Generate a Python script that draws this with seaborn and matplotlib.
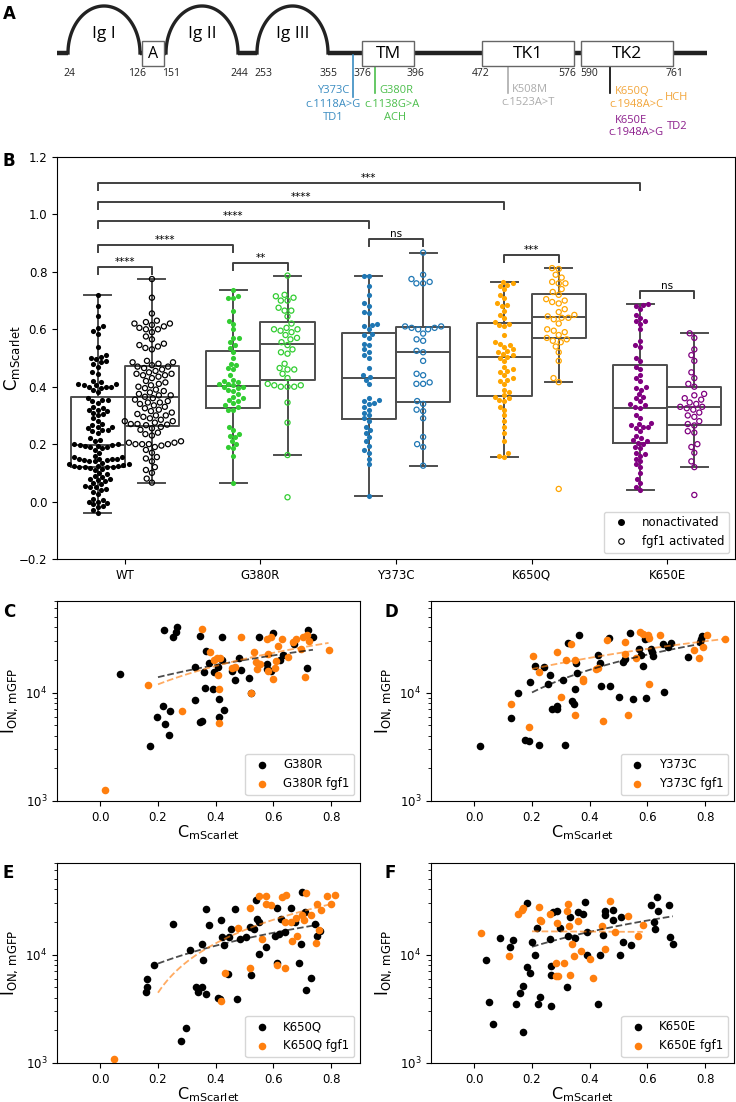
import numpy as np
import pandas as pd
import seaborn as sns
import matplotlib.pyplot as plt
from matplotlib.patches import Rectangle
from matplotlib.lines import Line2D

# ---------------- panel A: domain sketch (schematic x in px) ----------------
arc_names = ["Ig I", "Ig II", "Ig III"]
arc_start = [68, 166, 257]
arc_end = [140, 238, 328]
box_names = ["A", "TM", "TK1", "TK2"]
box_start = [142, 362, 482, 581]
box_end = [164, 414, 574, 673]
residues = ["24", "126", "151", "244", "253", "355", "376", "396", "472", "576", "590", "761"]
residue_x = [69, 137, 171, 239, 263, 329, 362, 415, 481, 567, 589, 674]

mut_names = ["Y373C", "G380R", "K508M", "K650Q", "K650E"]
mut_dna = ["c.1118A>G", "c.1138G>A", "c.1523A>T", "c.1948A>C", "c.1948A>G"]
mut_pheno = ["TD1", "ACH", "", "HCH", "TD2"]
mut_colors = ["#3a8cc1", "#4cbf4c", "#acacac", "#f2a53a", "#8c1e8c"]

# ---------------- panel B: C_mScarlet per cell ----------------
groups = ["WT", "G380R", "Y373C", "K650Q", "K650E"]
conditions = ["nonactivated", "fgf1 activated"]
group_colors = ["black", "limegreen", "#1f77b4", "orange", "purple"]

wt_non = [0.72, 0.68, 0.645, 0.61, 0.605, 0.595, 0.585, 0.54, 0.51, 0.505, 0.50, 0.495, 0.49, 0.485, 0.48,
          0.47, 0.45, 0.445, 0.42, 0.415, 0.41, 0.41, 0.405, 0.405, 0.40, 0.40, 0.40, 0.395, 0.39, 0.38,
          0.36, 0.355, 0.355, 0.35, 0.345, 0.33, 0.325, 0.32, 0.32, 0.315, 0.31, 0.305, 0.30, 0.29, 0.28,
          0.27, 0.265, 0.26, 0.26, 0.255, 0.25, 0.25, 0.245, 0.24, 0.22, 0.215, 0.21, 0.20, 0.20, 0.198,
          0.196, 0.195, 0.195, 0.19, 0.19, 0.185, 0.18, 0.17, 0.16, 0.155, 0.155, 0.15, 0.15, 0.15, 0.148,
          0.145, 0.145, 0.14, 0.14, 0.135, 0.13, 0.13, 0.128, 0.125, 0.125, 0.125, 0.122, 0.12, 0.12, 0.12,
          0.118, 0.115, 0.11, 0.10, 0.095, 0.09, 0.085, 0.08, 0.08, 0.075, 0.07, 0.065, 0.06, 0.055, 0.05,
          0.05, 0.045, 0.04, 0.035, 0.025, 0.01, 0.005, 0.0, 0.0, -0.005, -0.01, -0.015, -0.02, -0.03, -0.04]
wt_fgf = [0.775, 0.71, 0.655, 0.63, 0.625, 0.62, 0.62, 0.615, 0.61, 0.605, 0.60, 0.60, 0.59, 0.575, 0.565,
          0.55, 0.545, 0.54, 0.535, 0.53, 0.49, 0.485, 0.485, 0.48, 0.475,
          0.47, 0.47, 0.465, 0.46, 0.455, 0.45, 0.445, 0.445, 0.44, 0.44, 0.435, 0.43, 0.42, 0.415, 0.41,
          0.405, 0.40, 0.395, 0.39, 0.385, 0.38, 0.375, 0.37, 0.37, 0.365,
          0.36, 0.355, 0.35, 0.345, 0.345, 0.34, 0.335, 0.33, 0.325, 0.32, 0.315, 0.31, 0.305, 0.30, 0.30,
          0.295, 0.29, 0.285, 0.28, 0.28, 0.275, 0.27, 0.27, 0.268, 0.266,
          0.26, 0.255, 0.25, 0.24, 0.235, 0.23, 0.21, 0.205, 0.205, 0.20, 0.20, 0.20, 0.20, 0.195, 0.19,
          0.18, 0.17, 0.155, 0.15, 0.14, 0.12, 0.11, 0.10, 0.08, 0.066]
g380r_non = [0.737, 0.715, 0.71, 0.71, 0.665, 0.63, 0.62, 0.60, 0.57, 0.57, 0.555, 0.545, 0.535,
             0.52, 0.50, 0.48, 0.475, 0.465, 0.46, 0.44, 0.425, 0.42, 0.415, 0.41, 0.41, 0.405,
             0.40, 0.40, 0.395, 0.39, 0.385, 0.375, 0.365, 0.36, 0.355, 0.35, 0.345, 0.335, 0.33,
             0.32, 0.32, 0.26, 0.25, 0.235, 0.23, 0.225, 0.21, 0.20, 0.19, 0.185, 0.16, 0.066]
g380r_fgf = [0.787, 0.72, 0.715, 0.71, 0.70, 0.70, 0.675, 0.665, 0.665, 0.645,
             0.62, 0.605, 0.60, 0.60, 0.595, 0.59, 0.58, 0.57, 0.565, 0.555,
             0.545, 0.53, 0.52, 0.515, 0.48, 0.465, 0.46, 0.46, 0.445, 0.43,
             0.41, 0.405, 0.405, 0.40, 0.40, 0.40, 0.345, 0.275, 0.162, 0.015]
y373c_non = [0.787, 0.785, 0.75, 0.72, 0.69, 0.68, 0.66, 0.655, 0.62, 0.615, 0.61, 0.60,
             0.585, 0.58, 0.57, 0.55, 0.545, 0.53, 0.52, 0.51, 0.50, 0.465, 0.44, 0.435,
             0.425, 0.41, 0.36, 0.355, 0.35, 0.345, 0.34, 0.33, 0.32, 0.31, 0.30, 0.29,
             0.28, 0.26, 0.25, 0.24, 0.225, 0.21, 0.195, 0.18, 0.17, 0.15, 0.13, 0.02]
y373c_fgf = [0.867, 0.79, 0.775, 0.765, 0.76, 0.76, 0.61, 0.61,
             0.605, 0.605, 0.60, 0.60, 0.585, 0.565, 0.56, 0.525,
             0.52, 0.49, 0.445, 0.44, 0.415, 0.41, 0.41, 0.35,
             0.34, 0.32, 0.315, 0.29, 0.225, 0.20, 0.19, 0.125]
k650q_non = [0.765, 0.76, 0.755, 0.75, 0.74, 0.72, 0.71, 0.69, 0.685, 0.68, 0.665, 0.65, 0.64, 0.625,
             0.62, 0.615, 0.61, 0.58, 0.555, 0.55, 0.545, 0.54, 0.53, 0.525, 0.52, 0.515, 0.51, 0.505,
             0.50, 0.49, 0.47, 0.46, 0.455, 0.45, 0.44, 0.43, 0.425, 0.42, 0.41, 0.39, 0.38, 0.37,
             0.365, 0.36, 0.355, 0.35, 0.33, 0.32, 0.30, 0.28, 0.26, 0.24, 0.21, 0.17, 0.16, 0.156]
k650q_fgf = [0.813, 0.81, 0.79, 0.78, 0.765, 0.76, 0.76, 0.74, 0.73,
             0.72, 0.705, 0.70, 0.695, 0.69, 0.67, 0.66, 0.65, 0.645,
             0.64, 0.64, 0.635, 0.62, 0.60, 0.595, 0.59, 0.58, 0.57,
             0.565, 0.56, 0.555, 0.54, 0.52, 0.49, 0.43, 0.416, 0.044]
k650e_non = [0.688, 0.685, 0.68, 0.67, 0.65, 0.64, 0.63, 0.63, 0.62, 0.60, 0.56, 0.545, 0.54, 0.50, 0.49,
             0.47, 0.46, 0.44, 0.43, 0.42, 0.40, 0.395, 0.39, 0.375, 0.365, 0.36, 0.35, 0.34, 0.335, 0.33,
             0.325, 0.30, 0.29, 0.275, 0.27, 0.265, 0.26, 0.26, 0.255, 0.245, 0.23, 0.22, 0.215, 0.21, 0.205,
             0.20, 0.19, 0.185, 0.17, 0.165, 0.16, 0.15, 0.14, 0.13, 0.12, 0.10, 0.08, 0.065, 0.05, 0.04]
k650e_fgf = [0.586, 0.57, 0.53, 0.51, 0.49, 0.45, 0.43, 0.41,
             0.40, 0.375, 0.37, 0.36, 0.355, 0.345, 0.34, 0.33,
             0.33, 0.325, 0.32, 0.31, 0.30, 0.295, 0.28, 0.27,
             0.265, 0.245, 0.24, 0.20, 0.19, 0.17, 0.14, 0.12, 0.023]

nonact_values = [wt_non, g380r_non, y373c_non, k650q_non, k650e_non]
fgf1_values = [wt_fgf, g380r_fgf, y373c_fgf, k650q_fgf, k650e_fgf]

# significance brackets (left side always the nonactivated box)
bracket_left = ["WT", "WT", "WT", "WT", "WT", "G380R", "Y373C", "K650Q", "K650E"]
bracket_right = [("WT", "fgf1 activated"), ("G380R", "nonactivated"), ("Y373C", "nonactivated"),
                 ("K650Q", "nonactivated"), ("K650E", "nonactivated"), ("G380R", "fgf1 activated"),
                 ("Y373C", "fgf1 activated"), ("K650Q", "fgf1 activated"), ("K650E", "fgf1 activated")]
bracket_labels = ["****", "****", "****", "****", "***", "**", "ns", "***", "ns"]
bracket_tops = [0.817, 0.894, 0.977, 1.043, 1.109, 0.831, 0.914, 0.859, 0.733]

# ---------------- panels C-F: I_ON vs C_mScarlet (x, y) ----------------
c_non = [(0.222, 3.82e4), (0.267, 4.0e4), (0.262, 3.65e4), (0.253, 3.24e4), (0.07, 1.48e4), (0.347, 3.36e4),
         (0.421, 3.29e4), (0.60, 3.53e4), (0.549, 3.29e4), (0.737, 3.29e4), (0.719, 3.82e4), (0.366, 2.40e4),
         (0.328, 1.74e4), (0.358, 1.56e4), (0.375, 1.87e4), (0.407, 1.74e4), (0.421, 2.01e4), (0.481, 2.08e4),
         (0.455, 1.59e4), (0.487, 1.6e4), (0.514, 1.35e4), (0.467, 1.30e4), (0.578, 1.82e4), (0.578, 1.65e4),
         (0.624, 2.0e4), (0.632, 2.22e4), (0.671, 2.81e4), (0.715, 1.68e4), (0.362, 1.1e4), (0.389, 1.07e4),
         (0.328, 8.5e3), (0.41, 8.7e3), (0.43, 6.85e3), (0.216, 7.5e3), (0.241, 6.8e3), (0.196, 5.9e3),
         (0.225, 5.1e3), (0.237, 4.1e3), (0.171, 3.2e3), (0.353, 5.5e3), (0.41, 5.9e3), (0.523, 1.0e4),
         (0.345, 5.4e3), (0.395, 1.55e4), (0.59, 1.57e4)]
c_fgf = [(0.018, 1.26e3), (0.165, 1.17e4), (0.284, 6.7e3), (0.353, 3.87e4), (0.381, 2.36e4), (0.404, 2.07e4),
         (0.415, 2.1e4), (0.407, 1.45e4), (0.412, 1.07e4), (0.412, 5.25e3), (0.487, 3.29e4), (0.455, 1.68e4),
         (0.467, 1.73e4), (0.523, 1.0e4), (0.533, 2.39e4), (0.541, 1.9e4), (0.544, 1.65e4), (0.555, 1.83e4),
         (0.580, 1.57e4), (0.580, 2.27e4), (0.578, 3.13e4), (0.592, 3.29e4), (0.598, 1.33e4), (0.606, 1.68e4),
         (0.609, 1.97e4), (0.615, 2.67e4), (0.628, 3.09e4), (0.651, 2.14e4), (0.669, 2.9e4), (0.677, 3.09e4),
         (0.694, 2.52e4), (0.703, 3.24e4), (0.708, 1.4e4), (0.717, 3.42e4), (0.723, 3.0e4), (0.791, 2.49e4),
         (0.395, 2.0e4)]
d_non = [(0.02, 3.24e3), (0.126, 5.86e3), (0.15, 1.0e4), (0.193, 1.26e4), (0.176, 3.69e3), (0.191, 3.61e3),
         (0.225, 3.29e3), (0.21, 1.77e4), (0.242, 1.71e4), (0.262, 1.45e4), (0.256, 1.19e4), (0.271, 7.1e3),
         (0.287, 7.5e3), (0.287, 7.0e3), (0.306, 1.3e4), (0.313, 3.29e3), (0.326, 2.87e4), (0.337, 8.4e3),
         (0.345, 7.8e3), (0.349, 1.07e4), (0.353, 1.87e4), (0.357, 1.51e4), (0.363, 3.41e4), (0.43, 2.24e4),
         (0.434, 1.87e4), (0.439, 1.15e4), (0.468, 3.2e4), (0.47, 1.15e4), (0.5, 9.1e3), (0.517, 1.93e4),
         (0.523, 2.04e4), (0.538, 3.53e4), (0.551, 8.8e3), (0.572, 2.52e4), (0.577, 2.22e4), (0.586, 1.77e4),
         (0.595, 8.85e3), (0.592, 3.13e4), (0.603, 3.2e4), (0.612, 2.5e4), (0.615, 2.39e4), (0.618, 2.19e4),
         (0.658, 1.01e4), (0.655, 2.81e4), (0.673, 2.62e4), (0.681, 2.85e4), (0.742, 2.11e4), (0.785, 3.13e4),
         (0.788, 3.31e4), (0.783, 2.92e4)]
d_fgf = [(0.126, 7.8e3), (0.191, 4.83e3), (0.205, 2.16e4), (0.225, 1.56e4), (0.287, 2.39e4), (0.299, 9.2e3),
         (0.317, 2.0e4), (0.334, 2.81e4), (0.349, 2.0e4), (0.349, 6.25e3), (0.378, 1.33e4), (0.378, 1.28e4),
         (0.422, 1.65e4), (0.43, 1.7e4), (0.445, 5.5e3), (0.459, 3.05e4), (0.523, 2.95e4), (0.523, 2.27e4),
         (0.534, 6.25e3), (0.561, 2.1e4), (0.575, 3.6e4), (0.584, 3.47e4), (0.603, 3.4e4), (0.607, 3.17e4),
         (0.607, 1.2e4), (0.644, 3.4e4), (0.762, 2.47e4), (0.777, 2.09e4), (0.792, 2.62e4), (0.806, 3.4e4),
         (0.869, 3.13e4)]
e_non = [(0.158, 4.54e3), (0.161, 5.9e3), (0.163, 4.98e3), (0.186, 7.98e3), (0.253, 1.92e4), (0.281, 1.6e3),
         (0.296, 2.1e3), (0.312, 1.11e4), (0.333, 5.05e3), (0.339, 4.5e3), (0.354, 5.0e3), (0.354, 1.24e4),
         (0.356, 8.9e3), (0.367, 4.33e3), (0.367, 2.64e4), (0.377, 1.88e4), (0.408, 3.98e3), (0.416, 3.9e3),
         (0.419, 2.07e4), (0.423, 1.45e4), (0.43, 1.22e4), (0.442, 6.56e3), (0.445, 1.45e4), (0.453, 1.73e4),
         (0.468, 2.64e4), (0.473, 3.9e3), (0.485, 1.4e4), (0.505, 1.45e4), (0.519, 1.8e4), (0.522, 6.45e3),
         (0.534, 1.73e4), (0.54, 3.2e4), (0.542, 2.14e4), (0.549, 2.0e4), (0.551, 1.02e4), (0.574, 1.18e4),
         (0.606, 1.47e4), (0.611, 2.68e4), (0.614, 8.3e3), (0.618, 1.56e4), (0.626, 2.14e4), (0.641, 1.61e4),
         (0.66, 2.7e4), (0.675, 2.0e4), (0.687, 8.3e3), (0.695, 1.24e4), (0.698, 3.81e4), (0.71, 2.46e4),
         (0.714, 4.7e3), (0.729, 6.1e3), (0.744, 1.9e4), (0.752, 1.5e4), (0.76, 1.65e4)]
e_fgf = [(0.046, 1.1e3), (0.419, 3.73e3), (0.431, 6.7e3), (0.476, 1.77e4), (0.519, 2.68e4), (0.519, 7.45e3),
         (0.549, 3.5e4), (0.56, 1.39e4), (0.574, 3.46e4), (0.574, 2.94e4), (0.591, 2.86e4), (0.614, 8.0e3),
         (0.629, 3.43e4), (0.641, 2.0e4), (0.645, 3.57e4), (0.641, 7.6e3), (0.66, 1.99e4), (0.664, 1.33e4),
         (0.677, 2.17e4), (0.683, 1.47e4), (0.70, 2.33e4), (0.706, 2.09e4), (0.712, 3.68e4), (0.729, 2.33e4),
         (0.746, 1.28e4), (0.752, 2.94e4), (0.758, 1.7e4), (0.764, 2.59e4), (0.786, 3.5e4), (0.801, 2.94e4),
         (0.813, 3.57e4)]
f_non = [(0.04, 8.9e3), (0.052, 3.68e3), (0.064, 2.3e3), (0.089, 1.42e4), (0.124, 1.18e4), (0.135, 1.35e4),
         (0.143, 3.48e3), (0.158, 4.45e3), (0.168, 5.1e3), (0.17, 1.95e3), (0.182, 3.0e4), (0.182, 7.7e3),
         (0.193, 6.8e3), (0.199, 1.31e4), (0.21, 1.0e4), (0.216, 1.77e4), (0.222, 3.5e3), (0.228, 4.03e3),
         (0.262, 1.4e4), (0.265, 7.8e3), (0.265, 6.55e3), (0.266, 3.39e3), (0.274, 2.46e4), (0.288, 2.5e4),
         (0.297, 1.77e4), (0.32, 4.98e3), (0.326, 1.47e4), (0.332, 2.22e4), (0.349, 1.42e4), (0.361, 2.46e4),
         (0.376, 2.35e4), (0.384, 3.04e4), (0.392, 9.9e3), (0.392, 1.61e4), (0.434, 9.9e3), (0.447, 1.53e4),
         (0.43, 3.48e3), (0.453, 2.55e4), (0.453, 2.3e4), (0.48, 2.1e4), (0.482, 2.6e4), (0.505, 1.0e4),
         (0.507, 2.22e4), (0.517, 1.3e4), (0.542, 1.22e4), (0.612, 2.84e4), (0.623, 2.02e4), (0.627, 1.73e4),
         (0.632, 3.38e4), (0.638, 2.55e4), (0.676, 2.84e4), (0.679, 1.45e4), (0.688, 1.26e4)]
f_fgf = [(0.023, 1.58e4), (0.121, 9.7e3), (0.153, 2.38e4), (0.164, 2.6e4), (0.17, 2.7e4), (0.224, 2.72e4),
         (0.228, 2.1e4), (0.23, 2.05e4), (0.262, 2.35e4), (0.283, 8.4e3), (0.283, 6.3e3), (0.291, 6.4e3),
         (0.288, 1.95e4), (0.312, 8.3e3), (0.32, 2.55e4), (0.326, 2.93e4), (0.328, 1.82e4), (0.33, 6.45e3),
         (0.338, 1.24e4), (0.346, 9.65e3), (0.361, 2.04e4), (0.369, 1.08e4), (0.401, 9.05e3), (0.41, 6.1e3),
         (0.442, 1.82e4), (0.453, 1.13e4), (0.471, 3.12e4), (0.488, 1.61e4), (0.534, 2.26e4), (0.569, 1.5e4),
         (0.584, 1.86e4)]

# linear fits I = slope * C + intercept
fit_non = [(20416, 9792), (31000, 3830), (19064, 4454), (22086, 7383)]
fit_fgf = [(28448, 6226), (22090, 12082), (41300, -3810), (-500, 16500)]

scatter_names = ["G380R", "Y373C", "K650Q", "K650E"]
scatter_non = [c_non, d_non, e_non, f_non]
scatter_fgf = [c_fgf, d_fgf, e_fgf, f_fgf]

# ------------------------------------------------------------------
W, H = 736, 1102
fig = plt.figure(figsize=(W / 100, H / 100), dpi=100)


def px_box(left, top, right, bottom):
    return [left / W, 1 - bottom / H, (right - left) / W, (bottom - top) / H]


# ---- A ----
axA = fig.add_axes([0, 1 - 150 / H, 1, 150 / H])
axA.set_xlim(0, W)
axA.set_ylim(150, 0)
axA.axis("off")
base = 53
segs = [(57, arc_start[0])] + list(zip(arc_end[:-1], arc_start[1:])) + [(arc_end[-1], 707)]
for x0, x1 in segs:
    axA.plot([x0, x1], [base, base], color="#222222", lw=3.2, solid_capstyle="butt")
t = np.linspace(0, np.pi, 120)
for name, x0, x1 in zip(arc_names, arc_start, arc_end):
    cx, a = (x0 + x1) / 2, (x1 - x0) / 2
    axA.plot(cx - a * np.cos(t), base - 47 * np.sin(t), color="#222222", lw=2.4)
    axA.text(cx, 34, name, ha="center", va="center", fontsize=12.5, family="Open Sans")
for name, x0, x1 in zip(box_names, box_start, box_end):
    axA.add_patch(Rectangle((x0, 41), x1 - x0, 25, facecolor="white", edgecolor="#666666", lw=1.0, zorder=3))
    axA.text((x0 + x1) / 2, 53.5, name, ha="center", va="center", fontsize=12.5 if name != "A" else 11.5,
             family="Open Sans", zorder=4)
for lab, x in zip(residues, residue_x):
    axA.text(x, 73, lab, ha="center", va="center", fontsize=7.5, family="Open Sans", color="#222222")

# mutation markers
axA.plot([353, 353], [55, 97], color=mut_colors[0], lw=1.2)
axA.plot([375, 375], [66, 93], color=mut_colors[1], lw=1.2)
axA.plot([508, 508], [66, 93], color=mut_colors[2], lw=1.2)
axA.plot([610, 610], [66, 93], color="black", lw=1.2)
txt = dict(fontsize=8, family="Open Sans", va="center")
axA.text(333, 90.5, mut_names[0], ha="center", color=mut_colors[0], **txt)
axA.text(333, 105, mut_dna[0], ha="center", color=mut_colors[0], **txt)
axA.text(333, 118, mut_pheno[0], ha="center", color=mut_colors[0], **txt)
axA.text(379, 90.5, mut_names[1], ha="left", color=mut_colors[1], **txt)
axA.text(392, 105, mut_dna[1], ha="center", color=mut_colors[1], **txt)
axA.text(395, 118, mut_pheno[1], ha="center", color=mut_colors[1], **txt)
axA.text(512, 89.5, mut_names[2], ha="left", color=mut_colors[2], **txt)
axA.text(528, 103, mut_dna[2], ha="center", color=mut_colors[2], **txt)
axA.text(615, 91, mut_names[3], ha="left", color=mut_colors[3], **txt)
axA.text(636, 105, mut_dna[3], ha="center", color=mut_colors[3], **txt)
axA.text(677, 98, mut_pheno[3], ha="center", color=mut_colors[3], **txt)
axA.text(615, 121, mut_names[4], ha="left", color=mut_colors[4], **txt)
axA.text(636, 133, mut_dna[4], ha="center", color=mut_colors[4], **txt)
axA.text(677, 127, mut_pheno[4], ha="center", color=mut_colors[4], **txt)

# ---- B ----
rows = []
for g, non, fgf in zip(groups, nonact_values, fgf1_values):
    rows += [(g, conditions[0], v) for v in non]
    rows += [(g, conditions[1], v) for v in fgf]
df = pd.DataFrame(rows, columns=["group", "condition", "C"])

axB = fig.add_axes(px_box(57, 157, 735, 559))
sns.boxplot(data=df, x="group", y="C", hue="condition", order=groups, hue_order=conditions,
            palette={c: "0.3" for c in conditions}, fill=False, showfliers=False, linewidth=1.4,
            width=0.8, legend=False, ax=axB)
n_before = len(axB.collections)
sns.swarmplot(data=df, x="group", y="C", hue="condition", order=groups, hue_order=conditions,
              palette=["k", "k"], dodge=True, size=3.7, legend=False, ax=axB)
for coll in axB.collections[n_before:]:
    off = coll.get_offsets()
    if len(off) == 0:
        continue
    xc = float(np.mean(off[:, 0]))
    gi = int(round(xc))
    col = group_colors[gi]
    if xc > gi:
        coll.set_facecolor("none")
        coll.set_edgecolor(col)
        coll.set_linewidth(0.9)
    else:
        coll.set_facecolor(col)
        coll.set_edgecolor(col)
        coll.set_linewidth(0)

dodge = {conditions[0]: -0.2, conditions[1]: 0.2}
for lg, (rg, rc), lab, top in zip(bracket_left, bracket_right, bracket_labels, bracket_tops):
    x1 = groups.index(lg) + dodge[conditions[0]]
    x2 = groups.index(rg) + dodge[rc]
    axB.plot([x1, x1, x2, x2], [top - 0.025, top, top, top - 0.025], color="0.25", lw=1.4)
    axB.text((x1 + x2) / 2, top, lab, ha="center", va="bottom", fontsize=7.5)

axB.set_xlim(-0.5, len(groups) - 0.5)
axB.set_ylim(-0.2, 1.2)
axB.set_yticks(np.round(np.arange(-0.2, 1.21, 0.2), 1))
axB.set_xlabel("")
axB.set_ylabel(r"C$_{\mathrm{mScarlet}}$", fontsize=12)
axB.yaxis.set_label_coords(-0.052, 0.5)
axB.tick_params(labelsize=8.5)
handles = [Line2D([], [], ls="", marker="o", ms=4, color="k"),
           Line2D([], [], ls="", marker="o", ms=4, mfc="none", mec="k", mew=0.8)]
axB.legend(handles, conditions, loc="lower right", fontsize=8.5)

# ---- C-F ----
boxes = [(57, 601, 360, 801), (431, 601, 734, 801), (57, 863, 360, 1063), (431, 863, 734, 1063)]
for name, non, fgf, fn, ff, bx in zip(scatter_names, scatter_non, scatter_fgf, fit_non, fit_fgf, boxes):
    ax = fig.add_axes(px_box(*bx))
    non = np.array(non)
    fgf = np.array(fgf)
    sns.scatterplot(x=non[:, 0], y=non[:, 1], color="black", s=30, linewidth=0, label=name, ax=ax)
    sns.scatterplot(x=fgf[:, 0], y=fgf[:, 1], color="#ff7f0e", s=30, linewidth=0, label=name + " fgf1", ax=ax)
    for pts, (slope, icpt), col, al in [(non, fn, "black", 0.7), (fgf, ff, "#ff7f0e", 0.65)]:
        xx = np.linspace(0.2, pts[:, 0].max(), 60)
        ax.plot(xx, slope * xx + icpt, ls="--", color=col, alpha=al, lw=1.3)
    ax.set_yscale("log")
    ax.set_ylim(1e3, 7e4)
    ax.set_xlim(-0.15, 0.9)
    ax.set_xticks([0.0, 0.2, 0.4, 0.6, 0.8])
    ax.tick_params(labelsize=8.5)
    ax.set_xlabel(r"C$_{\mathrm{mScarlet}}$", fontsize=11.5, labelpad=-0.5)
    ax.set_ylabel(r"I$_{\mathrm{ON,\,mGFP}}$", fontsize=12)
    ax.legend(loc="lower right", fontsize=8.5)

# panel letters
for lab, x, y in [("A", 3, 5), ("B", 3, 152), ("C", 3, 603), ("D", 384, 603), ("E", 3, 864), ("F", 384, 864)]:
    fig.text(x / W, 1 - y / H, lab, ha="left", va="top", fontsize=12, fontweight="bold")

fig.savefig("out.png", dpi=100)
